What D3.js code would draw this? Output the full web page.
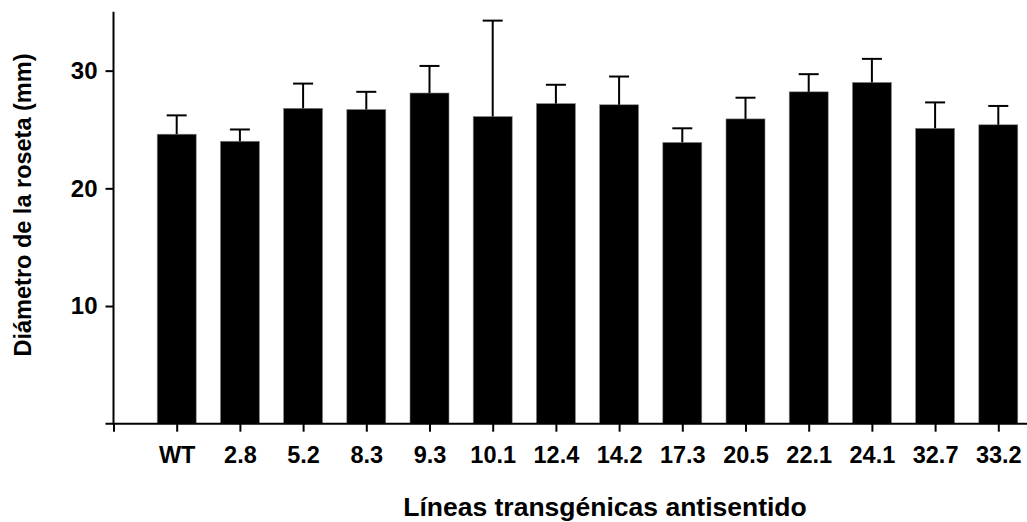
<!DOCTYPE html>
<html>
<head>
<meta charset="utf-8">
<script src="https://cdn.jsdelivr.net/npm/d3@7"></script>
<style>
  html, body { margin: 0; padding: 0; background: #fff; }
  svg { display: block; }
  text { font-family: "Liberation Sans", Arial, sans-serif; font-weight: bold; fill: #000; }
</style>
</head>
<body>
<svg id="chart" width="1027" height="522"></svg>
<script>
const categories = ["WT", "2.8", "5.2", "8.3", "9.3", "10.1", "12.4", "14.2", "17.3", "20.5", "22.1", "24.1", "32.7", "33.2"];
const means      = [24.6, 24.0, 26.8, 26.7, 28.1, 26.1, 27.2, 27.1, 23.9, 25.9, 28.2, 29.0, 25.1, 25.4];
const errorTops  = [26.2, 25.0, 28.9, 28.2, 30.4, 34.25, 28.8, 29.5, 25.1, 27.7, 29.7, 31.0, 27.3, 27.0];
const yTicks     = [10, 20, 30];
const yTitle = "Diámetro de la roseta (mm)";
const xTitle = "Líneas transgénicas antisentido";

const svg = d3.select("#chart");

const y = d3.scaleLinear().domain([0, 35]).range([423.7, 11.8]);
const x = d3.scaleLinear().domain([0, 14]).range([113.5, 113.5 + 14 * 63.2]);
const barW = 39;
const capW = 20;

// bars
svg.append("g").selectAll("rect").data(means).join("rect")
  .attr("x", (d, i) => x(i + 1) - barW / 2)
  .attr("y", d => y(d))
  .attr("width", barW)
  .attr("height", d => y(0) - y(d))
  .attr("fill", "#000")
  .attr("stroke", "#888")
  .attr("stroke-width", 0.6);

// error bars
const eg = svg.append("g").attr("stroke", "#000").attr("stroke-width", 2);
eg.selectAll("line.v").data(errorTops).join("line").attr("class", "v")
  .attr("x1", (d, i) => x(i + 1)).attr("x2", (d, i) => x(i + 1))
  .attr("y1", (d, i) => y(means[i])).attr("y2", d => y(d));
eg.selectAll("line.c").data(errorTops).join("line").attr("class", "c")
  .attr("x1", (d, i) => x(i + 1) - capW / 2).attr("x2", (d, i) => x(i + 1) + capW / 2)
  .attr("y1", d => y(d)).attr("y2", d => y(d));

// y axis
const yAxis = d3.axisLeft(y).tickValues(yTicks).tickSize(8).tickPadding(8).tickFormat(d3.format("d"));
const gy = svg.append("g").attr("transform", `translate(${x(0)},0)`).call(yAxis);
gy.select(".domain").attr("d", `M0,${y(0)}V${y(35)}`).attr("stroke-width", 2);
gy.selectAll(".tick line").attr("stroke-width", 2);
gy.selectAll(".tick text").attr("font-size", 24).attr("font-family", "Liberation Sans, Arial, sans-serif").attr("font-weight", "bold");

// x axis
const xAxis = d3.axisBottom(x).tickValues(d3.range(0, 15)).tickSize(8).tickPadding(15)
  .tickFormat(i => i >= 1 && i <= categories.length ? categories[i - 1] : "");
const gx = svg.append("g").attr("transform", `translate(0,${y(0)})`).call(xAxis);
gx.select(".domain").attr("d", `M${x(0) - 8},0H1027`).attr("stroke-width", 2);
gx.selectAll(".tick line").attr("stroke-width", 2);
gx.selectAll(".tick text").attr("font-size", 23.5).attr("font-family", "Liberation Sans, Arial, sans-serif").attr("font-weight", "bold");

// titles
svg.append("text")
  .attr("transform", "translate(31,205) rotate(-90)")
  .attr("text-anchor", "middle")
  .attr("font-size", 23.5)
  .text(yTitle);

svg.append("text")
  .attr("x", 605).attr("y", 516)
  .attr("text-anchor", "middle")
  .attr("font-size", 26.5)
  .text(xTitle);
</script>
</body>
</html>
